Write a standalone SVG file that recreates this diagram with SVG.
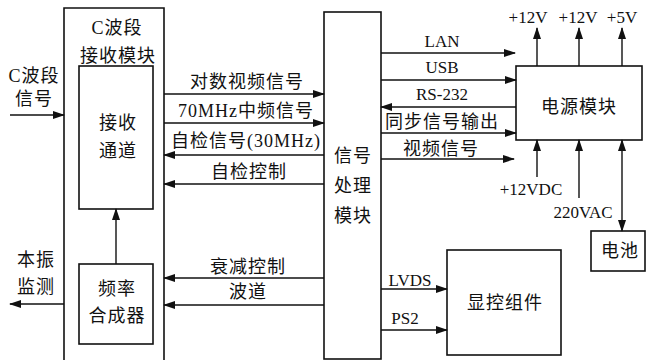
<svg xmlns="http://www.w3.org/2000/svg" width="646" height="360" viewBox="0 0 646 360">
<style>
.box{fill:none;stroke:#111;stroke-width:1.6}
.ln{fill:none;stroke:#111;stroke-width:1.4}
text{font-family:"Liberation Serif","Noto Sans CJK SC",serif;font-size:18px;fill:#111;text-anchor:middle;letter-spacing:1px}
text.lat{font-size:17px;letter-spacing:0}
</style>
<defs>
<marker id="ah" markerWidth="12" markerHeight="8" refX="11" refY="4" orient="auto" markerUnits="userSpaceOnUse">
<path d="M0,0 L12,4 L0,8 Z" fill="#111"/>
</marker>
<marker id="as" markerWidth="12" markerHeight="8" refX="1" refY="4" orient="auto" markerUnits="userSpaceOnUse">
<path d="M12,0 L0,4 L12,8 Z" fill="#111"/>
</marker>
</defs>
<rect width="646" height="360" fill="#fff"/>

<g id="cband">
<path class="box" d="M64,362 V8 H164 V362"/>
<text x="117" y="34">C波段</text>
<text x="118" y="62">接收模块</text>
</g>
<g id="channel">
<rect class="box" x="79" y="66" width="74" height="143"/>
<text x="118" y="129">接收</text>
<text x="118" y="157">通道</text>
</g>
<g id="synth">
<rect class="box" x="79" y="264" width="74" height="80"/>
<text x="117" y="295">频率</text>
<text x="117" y="322">合成器</text>
</g>
<g id="proc">
<rect class="box" x="324" y="12" width="57" height="347"/>
<text x="353" y="162">信号</text>
<text x="353" y="192">处理</text>
<text x="353" y="222">模块</text>
</g>
<g id="power">
<rect class="box" x="516" y="66" width="126" height="74"/>
<text x="579" y="113">电源模块</text>
</g>
<g id="battery">
<rect class="box" x="591" y="231" width="54" height="40"/>
<text x="620" y="257">电池</text>
</g>
<g id="display">
<rect class="box" x="447" y="250" width="114" height="105"/>
<text x="505" y="309">显控组件</text>
</g>

<g id="labels">
<text x="34" y="82">C波段</text>
<text x="34" y="105">信号</text>
<text x="36" y="266">本振</text>
<text x="36" y="293">监测</text>
<text x="247" y="88">对数视频信号</text>
<text x="246" y="117">70MHz中频信号</text>
<text x="246" y="147">自检信号(30MHz)</text>
<text x="249" y="178">自检控制</text>
<text x="248" y="273">衰减控制</text>
<text x="248" y="298">波道</text>
<text class="lat" x="442" y="47">LAN</text>
<text class="lat" x="442" y="73">USB</text>
<text class="lat" x="442" y="100">RS-232</text>
<text x="442" y="128">同步信号输出</text>
<text x="441" y="155">视频信号</text>
<text class="lat" x="528" y="23">+12V</text>
<text class="lat" x="578" y="23">+12V</text>
<text class="lat" x="622" y="23">+5V</text>
<text class="lat" x="531" y="195">+12VDC</text>
<text class="lat" x="583" y="218">220VAC</text>
<text class="lat" x="410" y="286">LVDS</text>
<text class="lat" x="405" y="324">PS2</text>
</g>

<g id="connectors">
<line class="ln" x1="10" y1="115" x2="64" y2="115" marker-end="url(#ah)"/>
<line class="ln" x1="64" y1="304" x2="10" y2="304" marker-end="url(#ah)"/>
<line class="ln" x1="116" y1="264" x2="116" y2="209" marker-end="url(#ah)"/>
<line class="ln" x1="164" y1="94" x2="324" y2="94" marker-end="url(#ah)"/>
<line class="ln" x1="164" y1="123" x2="324" y2="123" marker-end="url(#ah)"/>
<line class="ln" x1="324" y1="155" x2="164" y2="155" marker-end="url(#ah)"/>
<line class="ln" x1="324" y1="184" x2="164" y2="184" marker-end="url(#ah)"/>
<line class="ln" x1="324" y1="278" x2="164" y2="278" marker-end="url(#ah)"/>
<line class="ln" x1="324" y1="305" x2="164" y2="305" marker-end="url(#ah)"/>
<line class="ln" x1="381" y1="53" x2="515" y2="53" marker-end="url(#ah)"/>
<line class="ln" x1="381" y1="80" x2="516" y2="80" marker-end="url(#ah)"/>
<line class="ln" x1="516" y1="107" x2="381" y2="107" marker-end="url(#ah)"/>
<line class="ln" x1="381" y1="133" x2="516" y2="133" marker-end="url(#ah)"/>
<line class="ln" x1="381" y1="159" x2="514" y2="159" marker-end="url(#ah)"/>
<line class="ln" x1="537" y1="66" x2="537" y2="28" marker-end="url(#ah)"/>
<line class="ln" x1="579" y1="66" x2="579" y2="28" marker-end="url(#ah)"/>
<line class="ln" x1="622" y1="66" x2="622" y2="28" marker-end="url(#ah)"/>
<line class="ln" x1="537" y1="177" x2="537" y2="140" marker-end="url(#ah)"/>
<line class="ln" x1="579" y1="198" x2="579" y2="140" marker-end="url(#ah)"/>
<line class="ln" x1="622" y1="140" x2="622" y2="231" marker-start="url(#as)" marker-end="url(#ah)"/>
<line class="ln" x1="381" y1="289" x2="447" y2="289" marker-end="url(#ah)"/>
<line class="ln" x1="381" y1="330" x2="447" y2="330" marker-end="url(#ah)"/>
</g>
</svg>
